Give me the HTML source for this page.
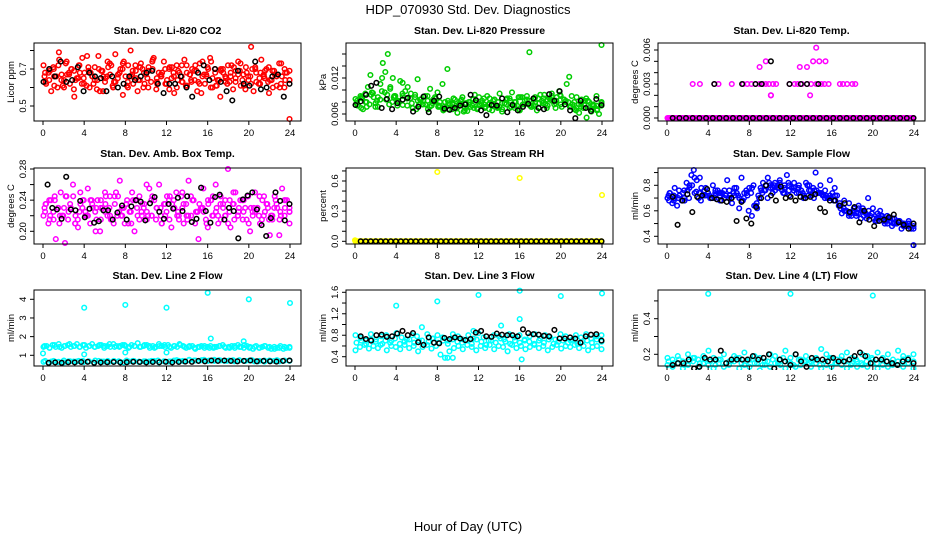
<!DOCTYPE html>
<html><head><meta charset="utf-8">
<style>
html,body{margin:0;padding:0;background:#fff;}
svg{display:block;font-family:"Liberation Sans",Arial,sans-serif;}
</style></head>
<body>
<svg id="chart" width="936" height="540" viewBox="0 0 936 540" xmlns="http://www.w3.org/2000/svg">
<text x="468" y="14" text-anchor="middle" font-size="13">HDP_070930  Std. Dev. Diagnostics</text>
<text x="468" y="531" text-anchor="middle" font-size="13">Hour of Day (UTC)</text>
</svg>
<script>
// ---- data (values per panel) ----
const xTicks = [0,4,8,12,16,20,24];
// CO2 (ppm)
const co2Color = [0.72,0.62,0.68,0.58,0.70,0.66,0.79,0.64,0.60,0.74,0.67,0.70,0.55,0.65,0.72,0.62,0.68,0.77,0.60,0.66,0.71,0.64,0.58,0.69,0.63,0.74,0.67,0.61,0.78,0.65,0.70,0.56,0.66,0.72,0.80,0.62,0.69,0.64,0.73,0.60,0.67,0.71,0.63,0.76,0.59,0.68,0.66,0.74,0.62,0.70,0.65,0.57,0.72,0.68,0.63,0.75,0.61,0.67,0.70,0.64,0.58,0.73,0.66,0.62,0.71,0.76,0.60,0.68,0.64,0.55,0.70,0.63,0.72,0.66,0.59,0.69,0.74,0.61,0.67,0.71,0.64,0.82,0.58,0.68,0.62,0.75,0.66,0.70,0.57,0.64,0.69,0.61,0.73,0.66,0.60,0.68,0.64];
const co2Color2 = [0.66,0.70,0.61,0.75,0.64,0.68,0.59,0.72,0.65,0.69,0.62,0.77,0.66,0.71,0.60,0.67,0.73,0.63,0.69,0.58,0.70,0.65,0.74,0.62,0.68,0.64,0.71,0.60,0.66,0.72,0.63,0.69,0.57,0.67,0.74,0.61,0.70,0.65,0.68,0.63,0.73,0.59,0.66,0.71,0.62,0.69,0.64,0.67,0.60,0.70,0.43];
const co2Color3 = [0.68,0.64,0.71,0.60,0.67,0.73,0.62,0.69,0.65,0.76,0.61,0.68,0.64,0.70,0.58,0.66,0.72,0.63,0.68,0.74,0.60,0.67,0.65,0.71,0.62,0.69,0.75,0.63,0.66,0.70,0.59,0.68,0.64,0.72,0.61,0.67,0.69,0.63,0.74,0.66,0.60,0.70,0.64,0.68,0.62,0.72,0.65,0.69,0.61,0.66,0.70,0.63,0.68,0.65,0.71,0.60,0.67,0.73,0.64,0.69];
const co2Color4 = [0.63,0.69,0.66,0.72,0.61,0.67,0.70,0.64,0.68,0.62,0.71,0.66,0.59,0.69,0.65,0.73,0.63,0.67,0.70,0.61,0.66,0.72,0.64,0.68,0.60,0.70,0.65,0.67,0.62,0.71,0.66,0.69,0.63,0.68,0.64,0.72,0.62,0.67,0.70,0.65,0.61,0.69,0.66,0.63,0.71,0.67,0.64,0.68,0.62,0.70,0.65,0.67,0.63,0.69,0.66,0.62,0.68,0.64];
const co2Black = [0.63,0.70,0.66,0.74,0.63,0.64,0.71,0.58,0.68,0.66,0.65,0.58,0.66,0.60,0.62,0.66,0.64,0.66,0.68,0.69,0.62,0.57,0.62,0.62,0.66,0.60,0.55,0.68,0.72,0.64,0.70,0.63,0.58,0.53,0.69,0.62,0.61,0.74,0.59,0.60,0.66,0.67,0.55,0.62];
// Pressure (x0.001 kPa)
const presColor = [8.5,7.5,9,6.8,8,10.5,12.5,9.5,7.2,8.8,11,14.5,13,16,10.5,12,9,8.2,11.5,7.5,9.8,10.5,8.6,7,9.2,11.8,8.4,7.6,9,8.2,10.2,7.8,8.8,9.6,7.2,11,8,13.5,7.6,6.8,8.4,6.2,7.8,8.8,7,6.5,8,7.4,9.2,6.8,7.6,8.2,7,9,7.8,6.6,8.4,7.2,9.4,6.4,7.8,8.6,7,9.6,8,7.4,6.8,8.8,7.6,9,16.3,7.2,8.4,6.6,7.8,8.2,9.2,7,8.6,9.4,7.6,8.8,9.8,7.2,8.4,11,12.2,9,8,7,6.2,8.4,7.6,5.4,8,6.8,7.4,9,6,17.5];
const presColor2 = [7.8,8.8,7.2,9.6,8.2,12,9.2,8,7.4,9.4,8.6,7,8.2,7.6,6.8,8.4,7.2,6.6,7.8,8.6,7.4,6.4,8,7,8.8,7.6,6.8,8.4,7.2,7.8,8.6,7,6.6,8.2,7.4,8.8,9.2,7.6,8.4,7,9,8.2,7.2,6.6,7.8,8.6,6.4,7.4,8];
const presColor3 = [8.2,7,9.4,7.6,8.8,7.2,9.8,8.4,10.2,9,8,11.2,8.6,9.4,8.8,7.6,8.2,9,7.4,8.6,8,7.2,6.8,7.8,7.4,8.2,6.6,7.6,8.4,7,7.8,7.2,8.6,7.4,8,6.8,7.6,8.2,7.4,8.8,7.6,8.4,7.2,8,7.8,8.6,7.4,8.2,7.8,9.2,8.4,8,7.6,8.8,7.2,8.2,7,7.6,6.8,7.4];
const presColor4 = [7.4,8.6,8,9.2,7.8,8.4,9.6,7.6,8.8,8.2,9,7.4,7.8,6.8,8.4,7.6,7.2,8,7.4,6.8,8.2,7.6,7,8.4,7.8,7.2,8,7.4,8.6,7.6,8.2,7,7.8,8.4,7.2,8,8.8,7.6,8.2,7.4,8.6,7.8,8.4,9,8.2,7.6,8,7.2,6.8,7.6,7,8.2,7.4,6.6,7.8];
const presBlack = [7.5,8.1,9.2,10.7,11.2,7.0,8.5,6.8,7.8,8.4,8.7,6.4,7.2,8.9,6.3,8.2,8.9,6.9,6.7,7.0,7.4,7.6,9.2,8.3,6.6,5.8,7.5,7.4,8.6,6.3,7.5,6.6,7.2,7.7,8.6,7.0,6.8,9.3,8.2,9.8,7.6,6.6,5.3,8.2,7.0,6.5,8.5,7.5];
// Li-820 temperature (x0.001 C)
const tempZero = [0,0,0,0,0,0,0,0,0,0,0,0,0,0,0,0,0,0,0,0,0,0,0,0,0,0,0,0,0,0,0,0,0,0,0,0,0,0,0,0,0,0,0,0,0,0,0,0,0,0,0,0,0,0,0,0,0,0,0,0,0,0,0,0,0,0,0,0,0,0,0,0,0,0,0,0,0,0,0,0,0,0,0,0,0,0,0,0,0,0,0,0,0,0,0,0,0,0,0,0,0,0,0,0,0,0,0,0,0,0,0,0,0,0,0,0,0,0,0,0,0,0,0,0,0,0,0,0,0,0,0,0,0,0,0,0,0,0,0,0,0,0,0,0,0,0,0,0,0,0,0,0,0,0,0,0,0,0,0,0,0,0,0,0,0,0,0,0,0,0,0,0,0,0,0,0,0,0,0,0,0,0,0,0,0,0,0,0,0,0,0,0,0,0,0,0,0,0,0,0,0,0,0,0,0,0,0,0,0,0,0,0,0,0,0,0,0,0,0,0,0,0,0,0,0,0,0,0,0,0,0,0,0,0,0,0,0,0,0,0,0,0];
const tempSparseHours = [2.5,3.2,4.6,5,6.3,7.4,7.8,8.2,8.6,9,9.3,9.6,9.9,10.1,10.3,10.6,11.9,12.4,12.7,13.1,13.6,14,14.5,15,15.3,15.7,16.8,17.1,17.5,18,18.3,9.0,9.6,10.1,12.9,13.6,13.9,14.2,14.5,14.8,15.4];
const tempSparse = [3,3,3,3,3,3,3,3,3,3,3,3,3,2,3,3,3,3,3,3,3,3,3,3,3,3,3,3,3,3,3,4.5,5,2,4.5,4.5,2,5,6.2,5,5];
const tempBlackZero = [0,0,0,0,0,0,0,0,0,0,0,0,0,0,0,0,0,0,0,0,0,0,0,0,0,0,0,0,0,0,0,0,0,0,0,0,0];
const tempBlackHours = [4.6,7.3,8.6,9.2,10.1,11.9,13,13.6,14.7];
const tempBlack = [3,3,3,3,5,3,3,3,3];
// Ambient box temp (x0.01 C)
const ambColor = [22,23.5,21,24,22.5,19,23,25,22,24.5,21.5,23,26,22,20.5,23.5,24,22,25.5,21,23,22.5,24,20,23,25,22,24.5,21.5,23.5,22,26.5,23,21,24,22.5,25,20,23,24.5,22,23.5,21.5,25.5,22,24,23,26,21,23.5,22.5,24,20.5,23,25,22,24.5,21,23.5,26.5,22,24,22.5,19,23,25.5,21.5,23.5,24,22,26,21,24.5,23,22,28,20.5,23.5,25,22,24,21.5,23,24.5,20,22.5,25,23,21,24,22.5,23.5,19.5,22,24.5,23,21.5,25.5,22,24,23];
const ambColor2 = [23,21.5,24.5,22,18.5,23.5,21,25,22.5,24,20,23,24.5,21.5,25,22,23.5,21,24,22.5,26,22,23,21,24.5,23.5,22,25,21.5,24,22.5,23,20.5,24.5,22,23.5,21,25,22.5,24,21,23,22,24.5,21.5,23,19.5,24,22.5];
const ambColor3 = [22.5,24,21.5,23,22,24.5,23,21,22.5,24,22,23.5,21.5,24,22.5,23,21,24.5,22,23.5,22.5,24,21.5,23,22,24.5,23,22,23.5,21.5,24,22.5,23,22,24.5,21,23.5,22.5,24,22,23,21.5,24,22.5,23.5,22,24,21.5,23,22.5,24.5,22,23,21.5,23.5,22,24,22.5];
const ambColor4 = [23.5,22,24,21,23,22.5,24.5,21.5,23,22,24,23,21.5,23.5,22,24.5,22.5,23,21,24,22,23.5,22.5,24,21.5,23,22,24.5,23,21.5,23.5,22,24,22.5,23,21,24,22.5,23.5,22,24,21.5,23,22.5,24.5,22,23,21.5,23.5,22,24,22.5,23,21];
const ambBlack = [26,23,22.8,21.6,27,22.8,22.7,23.9,21.8,22.9,21.1,21.3,22.7,22.7,21.5,22.4,23.3,21.5,23.2,24,23.8,21.4,23.6,24.4,22.5,21.6,23.5,22.9,24.3,22.6,24.5,21.2,21.6,25.6,22.6,21.1,24.4,24.7,21.5,23,22.6,19.1,24.1,24.6,25,22.8,20.8,19.4,21.7,25,23.9,21.4,23.5];
// Gas stream RH (percent)
const rhZero = [0,0,0,0,0,0,0,0,0,0,0,0,0,0,0,0,0,0,0,0,0,0,0,0,0,0,0,0,0,0,0,0,0,0,0,0,0,0,0,0,0,0,0,0,0,0,0,0,0,0,0,0,0,0,0,0,0,0,0,0,0,0,0,0,0,0,0,0,0,0,0,0,0,0,0,0,0,0,0,0,0,0,0,0,0,0,0,0,0,0,0,0,0,0,0,0,0,0,0,0,0,0,0,0,0,0,0,0,0,0,0,0,0,0,0,0,0,0,0,0,0,0,0,0,0,0,0,0,0,0,0,0,0,0,0,0,0,0,0,0,0,0,0,0,0,0,0,0,0,0,0,0,0,0,0,0,0,0,0,0,0,0,0,0,0,0,0,0,0,0,0,0,0,0,0,0,0,0,0,0,0,0,0,0,0,0,0,0,0,0,0,0,0,0,0,0,0,0,0,0];
const rhSparseHours = [0,8,16,24];
const rhSparse = [0.01,0.69,0.63,0.46];
const rhBlack = [0,0,0,0,0,0,0,0,0,0,0,0,0,0,0,0,0,0,0,0,0,0,0,0,0,0,0,0,0,0,0,0,0,0,0,0,0,0,0,0,0,0,0,0,0,0,0,0,0];
// Sample flow (x0.01 ml/min)
const flowColor = [70,74,66,78,64,72,68,76,82,70,88,92,75,70,68,72,78,74,70,80,72,76,68,74,70,84,72,66,78,74,62,86,70,76,60,74,80,64,72,78,82,76,86,80,74,82,78,84,76,80,88,72,78,82,74,80,76,70,82,72,76,78,90,74,80,72,76,70,84,74,78,72,64,58,68,60,66,56,62,58,64,54,60,58,70,56,62,52,58,60,54,50,56,52,48,54,50,52,46,50,48,52,46,33];
const flowColor2 = [72,68,76,70,78,74,86,72,70,76,74,72,70,78,68,74,56,62,74,70,78,80,74,82,76,78,72,80,76,74,70,72,68,62,60,58,56,60,54,58,52,56,50,54,52,50,48,50];
const flowColor3 = [68,72,70,74,76,80,84,78,72,70,74,72,76,70,74,72,68,72,78,66,76,80,78,76,82,78,80,76,78,74,80,72,76,74,72,70,72,66,60,56,60,58,62,56,58,54,56,52,54,50,52,48,50,46];
const flowColor4 = [74,70,72,68,80,86,74,76,72,70,74,70,76,72,70,74,78,64,70,76,82,80,78,74,76,78,74,72,76,70,74,72,70,68,64,62,58,60,62,56,60,54,56,52,54,50,52,48,50,48];
const flowBlack = [71,49,68,73,59,71,72,77,70,69,68,67,70,52,67,54,50,63,70,80,72,68,79,70,71,68,71,70,71,73,62,59,68,68,64,66,59,63,51,60,53,48,52,53,55,57,51,49,46,50];
// Line 2 flow
const l2Upper = [1.45,1.5,1.4,1.55,1.45,1.6,1.4,1.5,1.55,1.45,1.5,1.6,1.45,1.55,1.4,1.5,1.6,1.45,1.5,1.55,1.4,1.5,1.45,1.6,1.5,1.45,1.55,1.5,1.4,1.55,1.5,1.65,1.45,1.5,1.55,1.4,1.5,1.45,1.6,1.5,1.45,1.55,1.4,1.5,1.45,1.55,1.5,1.4,1.45,1.5,1.35,1.45,1.5,1.4,1.45,1.5,1.4,1.45,1.5,1.55,1.4,1.45,1.5,1.4,1.55,1.45,1.4,1.5,1.45,1.35,1.5,1.4,1.45,1.5,1.4,1.35,1.45,1.4,1.5,1.35,1.4,1.45];
const l2Upper2 = [1.5,1.4,1.55,1.45,1.5,1.6,1.5,1.45,1.55,1.5,1.45,1.55,1.5,1.6,1.45,1.5,1.55,1.45,1.5,1.45,1.55,1.5,1.4,1.5,1.55,1.45,1.5,1.6,1.45,1.5,1.4,1.45,1.5,1.4,1.45,1.5,1.45,1.4,1.5,1.45,1.55,1.4,1.45,1.4,1.5,1.45,1.35,1.4,1.45,1.4];
const l2Lower = [0.65,0.6,0.7,0.65,0.62,0.68,0.66,0.7,0.64,0.68,0.62,0.7,0.66,0.64,0.7,0.68,0.62,0.66,0.7,0.64,0.68,0.66,0.7,0.62,0.68,0.66,0.72,0.7,0.68,0.74,0.72,0.7,0.76,0.72,0.7,0.74,0.7,0.72,0.68,0.74,0.7,0.72,0.68,0.7,0.66,0.72,0.7,0.68,0.72,0.7];
const l2Lower2 = [0.7,0.66,0.64,0.72,0.68,0.66,0.7,0.68,0.72,0.66,0.7,0.68,0.64,0.72,0.7,0.66,0.68,0.7,0.72,0.68,0.66,0.74,0.7,0.76,0.72,0.74,0.7,0.76,0.72,0.7,0.74,0.72,0.7,0.74,0.68,0.72,0.7,0.74,0.7,0.72];
const l2SparseHours = [0,4,4,8,8,12,12,16,16.3,19.5,20,24];
const l2Sparse = [1.1,3.55,1.05,3.7,1.15,3.55,1.15,4.35,1.9,1.75,4.0,3.8];
const l2Black = [0.6,0.62,0.6,0.63,0.62,0.64,0.65,0.6,0.62,0.63,0.64,0.62,0.63,0.65,0.64,0.62,0.64,0.63,0.65,0.62,0.64,0.66,0.65,0.7,0.68,0.72,0.7,0.72,0.7,0.68,0.7,0.72,0.68,0.7,0.68,0.66,0.7,0.72];
// Line 3 flow
const l3Upper = [0.8,0.75,0.7,0.82,0.72,0.78,0.8,0.7,0.84,0.76,0.72,0.8,0.78,0.7,0.82,0.74,0.8,0.76,0.7,0.82,0.78,0.72,0.8,0.74,0.84,0.76,0.7,0.8,0.78,0.72,0.82,0.76,0.8,0.7,0.78,0.82,0.74,0.8,0.76,0.72,0.82,0.78,0.7,0.8,0.76,0.82,0.74,0.78,0.8];
const l3Mid = [0.66,0.7,0.64,0.72,0.68,0.62,0.7,0.66,0.74,0.64,0.68,0.72,0.66,0.7,0.62,0.68,0.74,0.66,0.7,0.64,0.72,0.68,0.66,0.7,0.64,0.72,0.68,0.62,0.7,0.66,0.74,0.68,0.64,0.7,0.66,0.72,0.68,0.64,0.7,0.66,0.72,0.64,0.68,0.7,0.66,0.72,0.64,0.68,0.7,0.66,0.72,0.68];
const l3Lower = [0.52,0.58,0.62,0.55,0.6,0.56,0.64,0.52,0.6,0.58,0.54,0.62,0.56,0.6,0.5,0.58,0.62,0.55,0.6,0.44,0.38,0.5,0.56,0.6,0.54,0.62,0.58,0.52,0.6,0.56,0.62,0.54,0.6,0.58,0.5,0.62,0.56,0.6,0.54,0.58,0.62,0.56,0.6,0.52,0.58,0.62,0.55,0.6,0.58,0.62,0.56,0.6,0.52,0.58,0.6,0.54];
const l3SparseHours = [4,8,12,16,20,24,16,14.2,6.5,11.5,16.2,9,9.5];
const l3Sparse = [1.35,1.43,1.55,1.63,1.53,1.58,1.1,0.98,0.95,0.88,0.35,0.38,0.38];
const l3Black = [0.78,0.73,0.7,0.8,0.81,0.77,0.78,0.83,0.88,0.8,0.84,0.67,0.62,0.76,0.66,0.65,0.75,0.73,0.76,0.74,0.71,0.73,0.85,0.88,0.78,0.77,0.83,0.81,0.8,0.8,0.78,0.91,0.84,0.82,0.81,0.79,0.78,0.9,0.74,0.74,0.76,0.74,0.66,0.78,0.81,0.82,0.7];
// Line 4 flow
const l4Upper = [0.18,0.17,0.19,0.16,0.2,0.18,0.17,0.19,0.22,0.18,0.17,0.2,0.16,0.19,0.18,0.21,0.17,0.19,0.18,0.16,0.2,0.19,0.17,0.22,0.18,0.2,0.17,0.19,0.16,0.18,0.23,0.2,0.18,0.17,0.19,0.21,0.18,0.16,0.2,0.19,0.17,0.21,0.18,0.2,0.17,0.22,0.19,0.18,0.2];
const l4Mid = [0.16,0.15,0.17,0.14,0.16,0.18,0.15,0.17,0.16,0.14,0.17,0.15,0.16,0.18,0.15,0.16,0.17,0.15,0.14,0.16,0.17,0.15,0.18,0.16,0.14,0.17,0.16,0.15,0.17,0.14,0.16,0.18,0.15,0.17,0.16,0.14,0.17,0.15,0.16,0.18,0.15,0.17,0.16,0.14,0.16,0.17,0.15,0.16];
const l4Lower = [0.14,0.13,0.15,0.12,0.14,0.16,0.13,0.15,0.14,0.12,0.15,0.13,0.14,0.16,0.12,0.14,0.13,0.15,0.11,0.14,0.13,0.15,0.14,0.12,0.15,0.13,0.14,0.16,0.13,0.15,0.12,0.14,0.13,0.15,0.14,0.12,0.15,0.13,0.14,0.13,0.15,0.12,0.14,0.13,0.15,0.14,0.13,0.15,0.12];
const l4SparseHours = [4,12,20];
const l4Sparse = [0.54,0.54,0.53];
const l4Black = [0.14,0.15,0.15,0.17,0.12,0.13,0.18,0.17,0.17,0.22,0.15,0.17,0.17,0.17,0.17,0.19,0.17,0.18,0.2,0.12,0.17,0.16,0.14,0.2,0.16,0.13,0.18,0.17,0.17,0.16,0.18,0.16,0.16,0.17,0.19,0.21,0.19,0.15,0.17,0.17,0.16,0.15,0.14,0.16,0.17,0.15];

const svg = document.getElementById('chart');
const NS = 'http://www.w3.org/2000/svg';
function mk(tag, attrs){const e=document.createElementNS(NS,tag);for(const k in attrs)e.setAttribute(k,attrs[k]);return e;}

const colX = [[34,301,43,290],[346,613,355,602],[658,925,667,914]];
const rowY = [[43,121,34],[168,244,157],[290,366,279]];

function panel(cfg){
  const [bl,br,x0,x24] = colX[cfg.col];
  const [bt,bb,ty] = rowY[cfg.row];
  const xs = h => x0 + h*(x24-x0)/24;
  const ys = v => cfg.py0 + (v-cfg.v0)*(cfg.py1-cfg.py0)/(cfg.v1-cfg.v0);
  const g = mk('g',{});
  
  
  svg.appendChild(g);
  const t = mk('text',{x:(bl+br)/2,y:ty,'text-anchor':'middle','font-size':'10.5','font-weight':'bold'});
  
  
  t.textContent = cfg.title; g.appendChild(t);
  const clip = mk('clipPath',{id:'c'+cfg.name}); clip.appendChild(mk('rect',{x:bl-4,y:bt-4,width:br-bl+8,height:bb-bt+8})); g.appendChild(clip);
  const pg = mk('g',{'clip-path':'url(#c'+cfg.name+')'});
  
  
  g.appendChild(pg);
  cfg.series.forEach(s=>{
    const off = s.off || 0;
    s.vals.forEach((v,i)=>{
      const h = s.hours ? s.hours[i] : (s.vals.length>1 ? 0.05 + off + i*(23.9-off)/(s.vals.length-1) : 0);
      const c = mk('circle',{cx:xs(h).toFixed(1),cy:ys(v*(s.scale||1)).toFixed(1),r:2.3,fill:'none',stroke:s.color,'stroke-width':1.5});
      
      
      pg.appendChild(c);
    });
  });
  const box = mk('rect',{x:bl,y:bt,width:br-bl,height:bb-bt,fill:'none',stroke:'#000','stroke-width':1});
  
  
  g.appendChild(box);
  xTicks.forEach(h=>{
    const x = xs(h);
    g.appendChild(mk('line',{x1:x,x2:x,y1:bb,y2:bb+4,stroke:'#000'}));
    const lt = mk('text',{x:x,y:bb+15,'text-anchor':'middle','font-size':'9.5'});
    
    
    lt.textContent = h; g.appendChild(lt);
  });
  cfg.yTicks.forEach(v=>{
    const y = ys(v);
    g.appendChild(mk('line',{x1:bl-4,x2:bl,y1:y,y2:y,stroke:'#000'}));
  });
  cfg.yLabels.forEach(v=>{
    const y = ys(v);
    const lt = mk('text',{x:0,y:0,'text-anchor':'middle','font-size':'9.5',transform:`translate(${bl-8},${y}) rotate(-90)`});
    
    
    lt.textContent = cfg.fmt(v); g.appendChild(lt);
  });
  const yl = mk('text',{x:0,y:0,'text-anchor':'middle','font-size':'9.5',transform:`translate(${bl-20},${(bt+bb)/2}) rotate(-90)`});
  
  
  yl.textContent = cfg.ylab; g.appendChild(yl);
}
const RED='#ff0000',GRN='#00cd00',MAG='#ff00ff',YEL='#ffff00',BLU='#0000ff',CYN='#00ffff',BLK='#000000';
const f = d => v => v.toFixed(d);
panel({name:'co2',title:'Stan. Dev. Li-820 CO2',ylab:'Licor ppm',col:0,row:0,v0:0.5,py0:106,v1:0.7,py1:69,
  yTicks:[0.5,0.6,0.7,0.8],yLabels:[0.5,0.7],fmt:f(1),
  series:[{vals:co2Color,color:RED},{vals:co2Color2,color:RED,off:0.1},{vals:co2Color3,color:RED,off:0.15},{vals:co2Color4,color:RED,off:0.2},{vals:co2Black,color:BLK}]});
panel({name:'pressure',title:'Stan. Dev. Li-820 Pressure',ylab:'kPa',col:1,row:0,v0:0.006,py0:114,v1:0.012,py1:78,
  yTicks:[0.006,0.008,0.010,0.012,0.014,0.016],yLabels:[0.006,0.012],fmt:f(3),
  series:[{vals:presColor,color:GRN,scale:0.001},{vals:presColor2,color:GRN,scale:0.001,off:0.1},{vals:presColor3,color:GRN,scale:0.001,off:0.15},{vals:presColor4,color:GRN,scale:0.001,off:0.2},{vals:presBlack,color:BLK,scale:0.001}]});
panel({name:'li820-temp',title:'Stan. Dev. Li-820 Temp.',ylab:'degrees C',col:2,row:0,v0:0,py0:118,v1:0.006,py1:50,
  yTicks:[0,0.001,0.002,0.003,0.004,0.005,0.006],yLabels:[0,0.003,0.006],fmt:f(3),
  series:[{vals:tempZero,color:MAG},{vals:tempSparse,hours:tempSparseHours,color:MAG,scale:0.001},{vals:tempBlackZero,color:BLK,off:0.5},{vals:tempBlack,hours:tempBlackHours,color:BLK,scale:0.001}]});
panel({name:'amb-temp',title:'Stan. Dev. Amb. Box Temp.',ylab:'degrees C',col:0,row:1,v0:0.20,py0:231.3,v1:0.28,py1:169,
  yTicks:[0.20,0.22,0.24,0.26,0.28],yLabels:[0.20,0.24,0.28],fmt:f(2),
  series:[{vals:ambColor,color:MAG,scale:0.01},{vals:ambColor2,color:MAG,scale:0.01,off:0.1},{vals:ambColor3,color:MAG,scale:0.01,off:0.15},{vals:ambColor4,color:MAG,scale:0.01,off:0.2},{vals:ambBlack,color:BLK,scale:0.01,off:0.4}]});
panel({name:'rh',title:'Stan. Dev. Gas Stream RH',ylab:'percent',col:1,row:1,v0:0,py0:241.3,v1:0.6,py1:181,
  yTicks:[0,0.1,0.2,0.3,0.4,0.5,0.6,0.7],yLabels:[0,0.3,0.6],fmt:f(1),
  series:[{vals:rhZero,color:YEL},{vals:rhSparse,hours:rhSparseHours,color:YEL},{vals:rhBlack,color:BLK,off:0.5}]});
panel({name:'sample-flow',title:'Stan. Dev. Sample Flow',ylab:'ml/min',col:2,row:1,v0:0.4,py0:236.3,v1:0.8,py1:185.3,
  yTicks:[0.4,0.5,0.6,0.7,0.8,0.9],yLabels:[0.4,0.6,0.8],fmt:f(1),
  series:[{vals:flowColor,color:BLU,scale:0.01},{vals:flowColor2,color:BLU,scale:0.01,off:0.1},{vals:flowColor3,color:BLU,scale:0.01,off:0.15},{vals:flowColor4,color:BLU,scale:0.01,off:0.2},{vals:flowBlack,color:BLK,scale:0.01,off:0.5}]});
panel({name:'line2-flow',title:'Stan. Dev. Line 2 Flow',ylab:'ml/min',col:0,row:2,v0:1,py0:355.3,v1:4,py1:299.3,
  yTicks:[1,2,3,4],yLabels:[1,2,3,4],fmt:f(0),
  series:[{vals:l2Upper,color:CYN},{vals:l2Upper2,color:CYN,off:0.1},{vals:l2Lower,color:CYN},{vals:l2Lower2,color:CYN,off:0.15},{vals:l2Sparse,hours:l2SparseHours,color:CYN},{vals:l2Black,color:BLK,off:0.5}]});
panel({name:'line3-flow',title:'Stan. Dev. Line 3 Flow',ylab:'ml/min',col:1,row:2,v0:0.4,py0:356.7,v1:1.6,py1:292.3,
  yTicks:[0.4,0.6,0.8,1.0,1.2,1.4,1.6],yLabels:[0.4,0.8,1.2,1.6],fmt:f(1),
  series:[{vals:l3Upper,color:CYN},{vals:l3Mid,color:CYN,off:0.1},{vals:l3Lower,color:CYN},{vals:l3Sparse,hours:l3SparseHours,color:CYN},{vals:l3Black,color:BLK,off:0.5}]});
panel({name:'line4-flow',title:'Stan. Dev. Line 4 (LT) Flow',ylab:'ml/min',col:2,row:2,v0:0.2,py0:354.3,v1:0.4,py1:318.7,
  yTicks:[0.2,0.3,0.4,0.5],yLabels:[0.2,0.4],fmt:f(1),
  series:[{vals:l4Upper,color:CYN},{vals:l4Mid,color:CYN,off:0.1},{vals:l4Lower,color:CYN},{vals:l4Sparse,hours:l4SparseHours,color:CYN},{vals:l4Black,color:BLK,off:0.5}]});
</script>
</body></html>
